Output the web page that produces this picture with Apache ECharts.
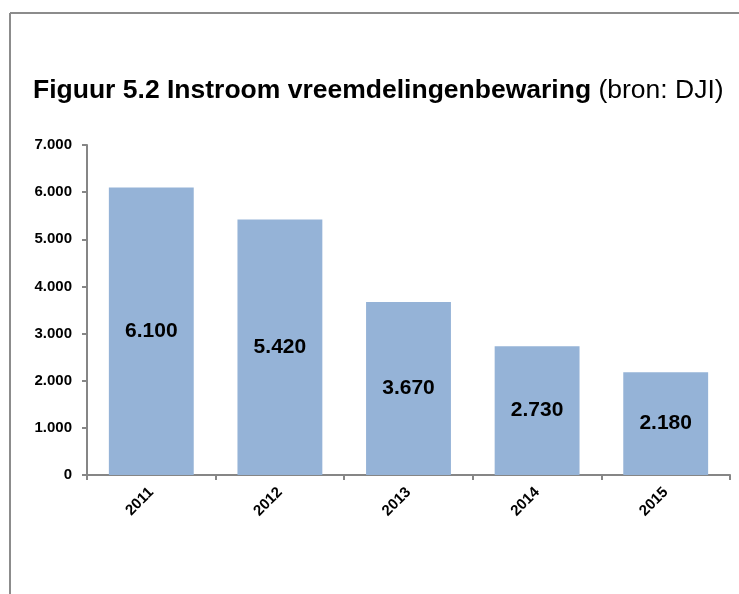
<!DOCTYPE html>
<html>
<head>
<meta charset="utf-8">
<title>Instroom vreemdelingenbewaring</title>
<script src="https://cdn.jsdelivr.net/npm/echarts@6/dist/echarts.min.js"></script>
<style>
  html, body { margin: 0; padding: 0; background: #fff; }
  #main { width: 739px; height: 594px; }
</style>
</head>
<body>
<div id="main"></div>
<script>
// data
var years = ['2011', '2012', '2013', '2014', '2015'];
var instroom = [6100, 5420, 3670, 2730, 2180];

// 6100 -> 6.100
function nl(v) {
  return String(v).replace(/\B(?=(\d{3})+(?!\d))/g, '.');
}

var chart = echarts.init(document.getElementById('main'));

var option = {
  backgroundColor: '#fff',
  animation: false,
  title: {
    left: 28,
    top: 72,
    text: '{b|Figuur 5.2 Instroom vreemdelingenbewaring}{n| (bron: DJI)}',
    textStyle: {
      rich: {
        b: { fontFamily: 'Liberation Sans, Arial', fontSize: 26.5, fontWeight: 'bold', color: '#000' },
        n: { fontFamily: 'Liberation Sans, Arial', fontSize: 26.5, fontWeight: 'normal', color: '#000' }
      }
    }
  },
  // frame around the chart area (only left and top are visible)
  graphic: [
    { type: 'line', shape: { x1: 10, y1: 13, x2: 739, y2: 13 }, style: { stroke: '#8c8c8c', lineWidth: 2 } },
    { type: 'line', shape: { x1: 10, y1: 13, x2: 10, y2: 594 }, style: { stroke: '#8c8c8c', lineWidth: 2 } }
  ],
  grid: { left: 87, right: 9, top: 145, bottom: 119 },
  xAxis: {
    type: 'category',
    data: years,
    axisLine: { lineStyle: { color: '#868686', width: 2 } },
    axisTick: { show: true, length: 5, lineStyle: { color: '#868686', width: 2 } },
    axisLabel: {
      rotate: 45,
      margin: 15,
      fontFamily: 'Liberation Sans, Arial',
      fontSize: 15,
      fontWeight: 'bold',
      color: '#000'
    }
  },
  yAxis: {
    type: 'value',
    min: 0,
    max: 7000,
    interval: 1000,
    axisLine: { show: true, lineStyle: { color: '#868686', width: 2 } },
    axisTick: { show: true, length: 5, lineStyle: { color: '#868686', width: 2 } },
    splitLine: { show: false },
    axisLabel: {
      margin: 15,
      fontFamily: 'Liberation Sans, Arial',
      fontSize: 15,
      fontWeight: 'bold',
      color: '#000',
      formatter: nl
    }
  },
  series: [{
    type: 'bar',
    data: instroom,
    barWidth: '66%',
    itemStyle: { color: '#95b3d7' },
    label: {
      show: true,
      position: 'inside',
      fontFamily: 'Liberation Sans, Arial',
      fontSize: 21,
      fontWeight: 'bold',
      color: '#000',
      formatter: function (p) { return nl(p.value); }
    }
  }]
};

chart.setOption(option);
</script>
</body>
</html>
